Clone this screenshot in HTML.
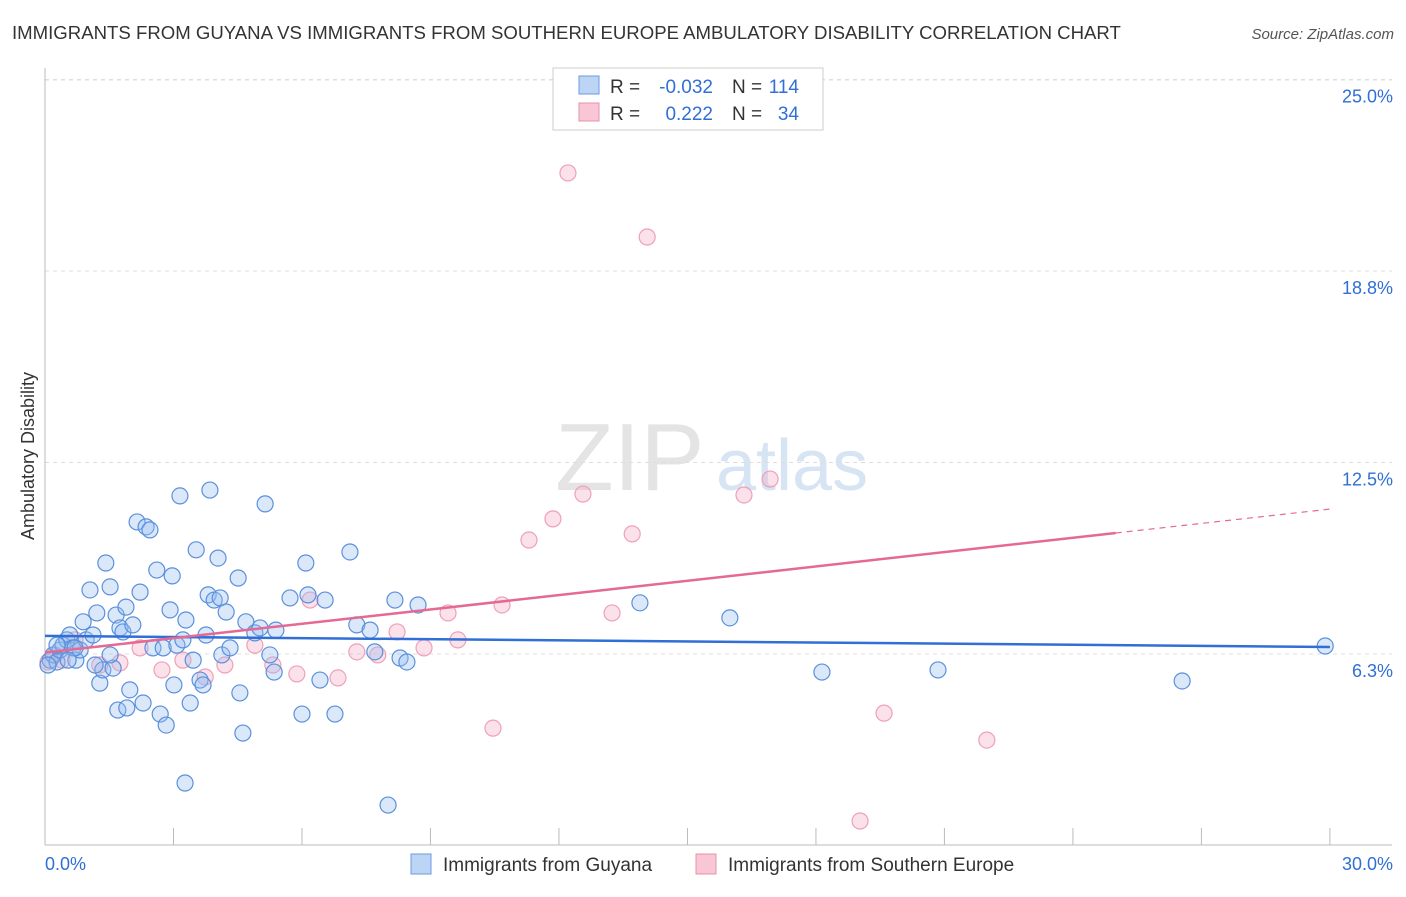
<!DOCTYPE html>
<html><head><meta charset="utf-8"><style>
body{margin:0;background:#fff;font-family:"Liberation Sans",sans-serif;}
svg text{font-family:"Liberation Sans",sans-serif;}
</style></head><body>
<svg id="chart" width="1406" height="892" xmlns="http://www.w3.org/2000/svg">
<text x="12" y="39" font-size="18.6" fill="#333">IMMIGRANTS FROM GUYANA VS IMMIGRANTS FROM SOUTHERN EUROPE AMBULATORY DISABILITY CORRELATION CHART</text>
<text x="1394" y="39" font-size="15" fill="#555" text-anchor="end" font-style="italic">Source: ZipAtlas.com</text>
<text x="555" y="490" font-size="96" fill="#e4e4e4" font-family="Liberation Serif">ZIP</text>
<text x="716" y="490" font-size="72" fill="#d6e4f3">atlas</text>
<text transform="translate(34,456) rotate(-90)" font-size="18" fill="#333" text-anchor="middle">Ambulatory Disability</text>
<g id="grid"></g><g id="axes"></g><g id="pink"></g><g id="blue"></g><g id="trends"></g>
<g>
<rect x="553" y="68" width="270" height="62" fill="#fff" stroke="#ccc"/>
<rect x="579" y="76" width="20" height="18" fill="#bcd5f5" stroke="#6a9be0"/>
<rect x="579" y="103" width="20" height="18" fill="#f8c6d4" stroke="#e890aa"/>
<text x="610" y="93" font-size="19" fill="#333">R =</text>
<text x="713" y="93" font-size="19" fill="#2f6fd6" text-anchor="end">-0.032</text>
<text x="732" y="93" font-size="19" fill="#333">N =</text>
<text x="799" y="93" font-size="19" fill="#2f6fd6" text-anchor="end">114</text>
<text x="610" y="120" font-size="19" fill="#333">R =</text>
<text x="713" y="120" font-size="19" fill="#2f6fd6" text-anchor="end">0.222</text>
<text x="732" y="120" font-size="19" fill="#333">N =</text>
<text x="799" y="120" font-size="19" fill="#2f6fd6" text-anchor="end">34</text>
</g>
<g>
<rect x="411" y="854" width="20" height="20" fill="#bcd5f5" stroke="#6a9be0"/>
<text x="443" y="871" font-size="19" fill="#333">Immigrants from Guyana</text>
<rect x="696" y="854" width="20" height="20" fill="#f8c6d4" stroke="#e890aa"/>
<text x="728" y="871" font-size="19" fill="#333">Immigrants from Southern Europe</text>
</g>
</svg>
<script>
const yTicks=[6.25,12.5,18.75,25];
const yTickLabels=["6.3%","12.5%","18.8%","25.0%"];
const xTicks=[0,3,6,9,12,15,18,21,24,27,30];
const blueX=[0.12,0.19,0.28,0.35,0.42,0.51,0.58,0.65,0.72,0.82,0.89,0.96,1.05,1.12,1.21,1.28,1.35,1.42,1.52,1.59,1.66,1.70,1.75,1.82,1.89,1.91,1.98,2.05,2.15,2.22,2.29,2.36,2.45,2.52,2.61,2.69,2.76,2.83,2.92,2.97,3.01,3.08,3.15,3.22,3.29,3.39,3.46,3.53,3.62,3.69,3.76,3.81,3.85,3.95,4.04,4.09,4.13,4.23,4.32,4.51,4.55,4.62,4.69,4.90,5.02,5.14,5.25,5.35,5.39,5.72,6.00,6.09,6.14,6.42,6.54,6.77,7.12,7.28,7.59,7.70,8.01,8.17,8.29,8.45,8.71,13.89,15.99,18.14,20.85,26.55,29.89,3.27,1.52,1.17,0.70,0.54,0.07,0.28];
const blueY=[6.05,6.22,5.99,6.38,6.54,6.71,6.87,6.45,6.05,6.38,7.30,6.71,8.34,6.87,7.59,5.30,5.73,9.22,8.44,5.79,7.52,4.42,7.10,6.97,7.78,4.49,5.08,7.20,10.56,8.27,4.65,10.40,10.30,6.45,8.99,4.29,6.45,3.93,7.69,8.80,5.24,6.54,11.41,6.71,7.36,4.65,6.05,9.65,5.40,5.24,6.87,8.18,11.60,8.01,9.38,8.08,6.22,7.62,6.45,8.73,4.98,3.67,7.30,6.94,7.10,11.15,6.22,5.66,7.03,8.08,4.29,9.22,8.18,5.40,8.01,4.29,9.58,7.20,7.03,6.32,1.32,8.01,6.12,5.99,7.85,7.92,7.43,5.66,5.73,5.37,6.51,2.04,6.22,5.89,6.45,6.05,5.89,6.54];
const pinkX=[0.07,0.23,0.40,0.70,1.28,1.75,2.22,2.73,3.22,3.74,4.20,4.90,5.32,5.88,6.19,6.84,7.28,7.77,8.22,8.85,9.41,9.64,10.46,10.67,11.30,11.86,12.56,12.21,13.24,13.71,14.06,16.32,16.93,19.59,21.99,19.03];
const pinkY=[5.99,6.22,6.05,6.71,5.89,5.96,6.45,5.73,6.05,5.50,5.89,6.54,5.89,5.60,8.01,5.47,6.32,6.22,6.97,6.45,7.59,6.71,3.83,7.85,9.97,10.66,11.47,21.95,7.59,10.17,19.86,11.44,11.96,4.32,3.44,0.80];
const blueTrend=[6.84,6.48];
const pinkTrend=[6.30,10.98];
const pinkSolidEnd=25;
const NS="http://www.w3.org/2000/svg";
const xs=v=>45+v*42.83, ys=v=>845.5-v*30.64;
function mk(tag,attrs,parent){const e=document.createElementNS(NS,tag);for(const k in attrs)e.setAttribute(k,attrs[k]);document.getElementById(parent).appendChild(e);return e;}
yTicks.forEach((t,i)=>{
 const g=mk('line',{x1:45,x2:1392,y1:ys(t),y2:ys(t),stroke:'#ddd','stroke-dasharray':'4,4'},'grid');
 
 
 const tx=mk('text',{x:1393,y:ys(t)+23,'font-size':18,fill:'#2f6fd6','text-anchor':'end'},'grid');
 tx.textContent=yTickLabels[i];
 
 
});
const topGrid=mk('line',{x1:45,x2:1392,y1:80,y2:80,stroke:'#ddd','stroke-dasharray':'4,4'},'grid');


const ya=mk('line',{x1:45,x2:45,y1:68,y2:845,stroke:'#bbb'},'axes');


const xa=mk('line',{x1:45,x2:1392,y1:845,y2:845,stroke:'#bbb'},'axes');


xTicks.forEach(t=>{const l=mk('line',{x1:xs(t),x2:xs(t),y1:828,y2:845,stroke:'#bbb'},'axes');
 
 });
const x0=mk('text',{x:45,y:870,'font-size':18,fill:'#2f6fd6'},'axes');x0.textContent="0.0%";


const x1=mk('text',{x:1393,y:870,'font-size':18,fill:'#2f6fd6','text-anchor':'end'},'axes');x1.textContent="30.0%";


pinkX.forEach((v,i)=>{const c=mk('circle',{cx:xs(v),cy:ys(pinkY[i]),r:8,fill:'rgba(244,170,195,0.35)',stroke:'#eea0b8','stroke-width':1.2},'pink');
 
 });
blueX.forEach((v,i)=>{const c=mk('circle',{cx:xs(v),cy:ys(blueY[i]),r:8,fill:'rgba(150,190,240,0.35)',stroke:'#5a90dc','stroke-width':1.2},'blue');
 
 });
const bt=mk('line',{x1:xs(0),y1:ys(blueTrend[0]),x2:xs(30),y2:ys(blueTrend[1]),stroke:'#2f6fd6','stroke-width':2.5},'trends');


const pm=pinkTrend[0]+(pinkTrend[1]-pinkTrend[0])*pinkSolidEnd/30;
const pt=mk('line',{x1:xs(0),y1:ys(pinkTrend[0]),x2:xs(pinkSolidEnd),y2:ys(pm),stroke:'#e46a94','stroke-width':2.5},'trends');


const pd=mk('line',{x1:xs(pinkSolidEnd),y1:ys(pm),x2:xs(30),y2:ys(pinkTrend[1]),stroke:'#e46a94','stroke-width':1.2,'stroke-dasharray':'6,5'},'trends');


</script>
</body></html>
